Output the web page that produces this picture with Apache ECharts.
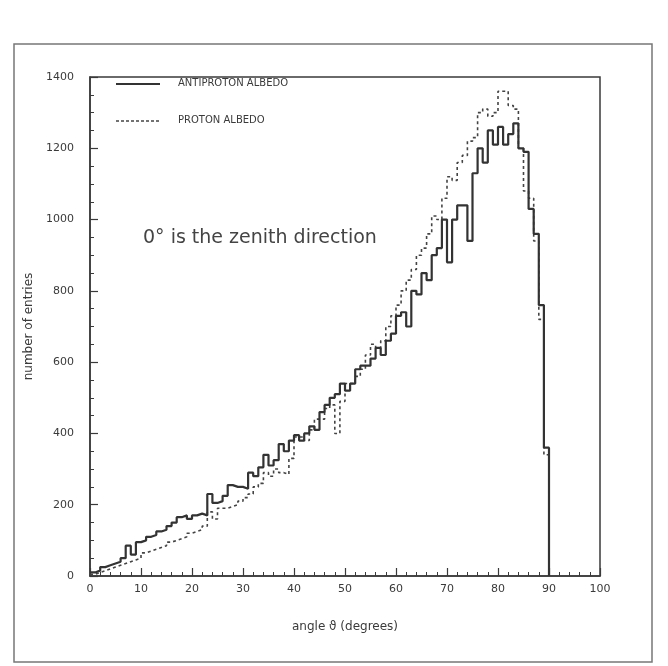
<!DOCTYPE html>
<html>
<head>
<meta charset="utf-8">
<script src="https://cdn.jsdelivr.net/npm/echarts@6/dist/echarts.min.js"></script>
<style>
html,body{margin:0;padding:0;background:#fff;}
#chart{width:668px;height:666px;}
</style>
</head>
<body>
<div id="chart"></div>
<script>
// Bin lower edges (degrees), 1-degree bins from 0 to 89
var binEdges = [];
for (var i = 0; i <= 90; i++) binEdges.push(i);

// Antiproton albedo counts per 1-degree bin (0..89)
var antiproton = [
  10, 15, 25, 30, 35, 40, 50, 85, 60, 95,
  100, 110, 115, 125, 130, 140, 150, 165, 170, 160,
  170, 175, 170, 230, 205, 210, 225, 255, 250, 250,
  245, 290, 280, 305, 340, 310, 325, 370, 350, 380,
  395, 380, 400, 420, 410, 460, 480, 500, 510, 540,
  520, 540, 580, 590, 590, 610, 640, 620, 660, 680,
  730, 740, 700, 800, 790, 850, 830, 900, 920, 1000,
  880, 1000, 1040, 1040, 940, 1130, 1200, 1160, 1250, 1210,
  1260, 1210, 1240, 1270, 1200, 1190, 1030, 960, 760, 360
];

// Proton albedo counts per 1-degree bin (0..89)
var proton = [
  5, 10, 15, 20, 25, 30, 35, 40, 45, 50,
  65, 70, 75, 80, 85, 95, 100, 105, 110, 120,
  125, 130, 140, 180, 160, 190, 190, 195, 200, 210,
  220, 230, 250, 260, 290, 280, 300, 290, 285, 330,
  390, 390, 380, 410, 440, 440, 470, 480, 400, 490,
  540, 540, 560, 580, 620, 650, 640, 660, 700, 730,
  760, 800, 830, 860, 900, 920, 960, 1010, 1000, 1060,
  1120, 1110, 1160, 1180, 1220, 1230, 1300, 1310, 1290, 1300,
  1360, 1360, 1320, 1310, 1200, 1080, 1060, 940, 720, 340
];

var xTicks = [0, 10, 20, 30, 40, 50, 60, 70, 80, 90, 100];
var yTicks = [0, 200, 400, 600, 800, 1000, 1200, 1400];

function histData(vals) {
  var d = [];
  for (var i = 0; i < vals.length; i++) d.push([binEdges[i], vals[i]]);
  d.push([binEdges[vals.length], 0]);
  return d;
}

var ink = '#3a3a3a';
var chart = echarts.init(document.getElementById('chart'), null, {renderer: 'canvas'});
chart.setOption({
  backgroundColor: '#fff',
  animation: false,
  grid: {left: 90, right: 68, top: 77, bottom: 90, show: true, borderColor: ink, borderWidth: 1.5},
  xAxis: {
    type: 'value', min: xTicks[0], max: xTicks[xTicks.length - 1], interval: 10,
    name: 'angle ϑ (degrees)', nameLocation: 'middle', nameGap: 45,
    nameTextStyle: {color: ink, fontSize: 12, fontFamily: 'DejaVu Sans'},
    axisLine: {lineStyle: {color: ink, width: 1.5}},
    axisTick: {inside: true, length: 8, lineStyle: {color: ink, width: 1.2}},
    minorTick: {show: true, splitNumber: 5, length: 4, lineStyle: {color: ink, width: 1}},
    axisLabel: {color: ink, fontSize: 11, fontFamily: 'DejaVu Sans', margin: 8,
      formatter: function (v) { return String(v); }},
    splitLine: {show: false}
  },
  yAxis: {
    type: 'value', min: yTicks[0], max: yTicks[yTicks.length - 1], interval: 200,
    name: 'number of entries', nameLocation: 'middle', nameGap: 48, nameRotate: 90,
    nameTextStyle: {color: ink, fontSize: 12, fontFamily: 'DejaVu Sans'},
    axisLine: {lineStyle: {color: ink, width: 1.5}},
    axisTick: {inside: true, length: 8, lineStyle: {color: ink, width: 1.2}},
    minorTick: {show: true, splitNumber: 4, length: 4, lineStyle: {color: ink, width: 1}},
    axisLabel: {color: ink, fontSize: 11, fontFamily: 'DejaVu Sans', margin: 16,
      formatter: function (v) { return String(v); }},
    splitLine: {show: false}
  },
  series: [
    {
      name: 'PROTON ALBEDO', type: 'line', step: 'end', symbol: 'none',
      data: histData(proton),
      lineStyle: {color: '#444', width: 1.6, type: [3, 3]}
    },
    {
      name: 'ANTIPROTON ALBEDO', type: 'line', step: 'end', symbol: 'none',
      data: histData(antiproton),
      lineStyle: {color: '#333', width: 2.2, type: 'solid'}
    }
  ],
  graphic: [
    {type: 'rect', shape: {x: 14, y: 44, width: 638, height: 618}, style: {fill: 'none', stroke: '#777', lineWidth: 1.5}, silent: true},
    {type: 'line', shape: {x1: 116, y1: 84, x2: 160, y2: 84}, style: {stroke: '#333', lineWidth: 2}},
    {type: 'text', left: 178, top: 78, style: {text: 'ANTIPROTON ALBEDO', fill: ink, font: '10px DejaVu Sans'}},
    {type: 'line', shape: {x1: 116, y1: 121, x2: 160, y2: 121}, style: {stroke: '#444', lineWidth: 1.5, lineDash: [3, 2]}},
    {type: 'text', left: 178, top: 115, style: {text: 'PROTON ALBEDO', fill: ink, font: '10px DejaVu Sans'}},
    {type: 'text', left: 143, top: 229, style: {text: '0° is the zenith direction', fill: '#444', font: '19px DejaVu Sans'}}
  ]
});
</script>
</body>
</html>
